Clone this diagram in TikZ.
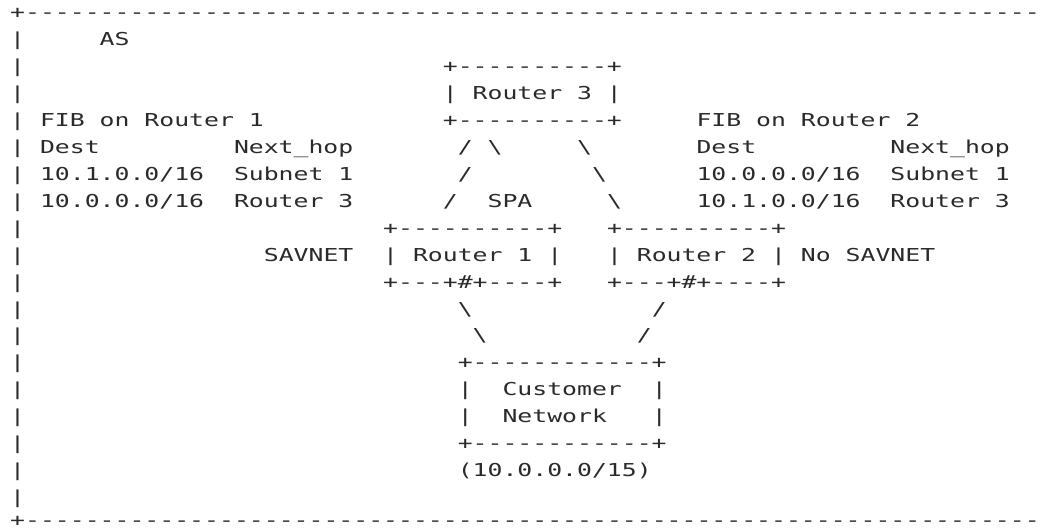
\documentclass[tikz,border=0pt]{standalone}
\usepackage{fontspec}
\setmonofont[FakeStretch=1.392]{DejaVu Sans Mono}
\definecolor{asciigray}{HTML}{2A2A2A}

\begin{document}
\begin{tikzpicture}[x=14.92pt,y=-26.95pt,
    ascii/.style={anchor=base west,inner sep=0pt,outer sep=0pt,text=asciigray,
        font=\ttfamily\fontsize{17.8}{20}\selectfont}]
    \useasboundingbox (-0.6836,-0.6883) rectangle (69.223,18.904);
    \clip (-0.6836,-0.6883) rectangle (69.223,18.904);
    % AS border
    \node [ascii] (tl) at (0,0) {+};
    \node [ascii] (bl) at (0,18.84) {+};
    \foreach \c in {1,...,70} {
        \node [ascii] (top\c) at (\c,0) {-};
        \node [ascii] (bot\c) at (\c,18.84) {-};
    }
    \foreach \r in {1,...,18} {
        \node [ascii] (bar\r) at (0,\r) {|};
    }
    \node [ascii] (as) at (6,1) {AS};
    % Router 3
    \node [ascii] (r3top) at (29,2) {+----------+};
    \node [ascii] (r3) at (29,3) {| Router 3 |};
    \node [ascii] (r3bot) at (29,4) {+----------+};
    % FIB tables
    \node [ascii] (fib1) at (2,4) {FIB on Router 1};
    \node [ascii] (dest1) at (2,5) {Dest};
    \node [ascii] (hop1) at (15,5) {Next\_hop};
    \node [ascii] (pfxa1) at (2,6) {10.1.0.0/16};
    \node [ascii] (hopa1) at (15,6) {Subnet 1};
    \node [ascii] (pfxb1) at (2,7) {10.0.0.0/16};
    \node [ascii] (hopb1) at (15,7) {Router 3};
    \node [ascii] (fib2) at (46,4) {FIB on Router 2};
    \node [ascii] (dest2) at (46,5) {Dest};
    \node [ascii] (hop2) at (59,5) {Next\_hop};
    \node [ascii] (pfxa2) at (46,6) {10.0.0.0/16};
    \node [ascii] (hopa2) at (59,6) {Subnet 1};
    \node [ascii] (pfxb2) at (46,7) {10.1.0.0/16};
    \node [ascii] (hopb2) at (59,7) {Router 3};
    % links to Router 3
    \node [ascii] (la1) at (30,5) {/};
    \node [ascii] (la2) at (30,6) {/};
    \node [ascii] (la3) at (29,7) {/};
    \node [ascii] (spa1) at (32,5) {\textbackslash};
    \node [ascii] (spa) at (32,7) {SPA};
    \node [ascii] (lb1) at (38,5) {\textbackslash};
    \node [ascii] (lb2) at (39,6) {\textbackslash};
    \node [ascii] (lb3) at (40,7) {\textbackslash};
    % Router 1 and Router 2
    \node [ascii] (r1top) at (25,8) {+----------+};
    \node [ascii] (r1) at (25,9) {| Router 1 |};
    \node [ascii] (r1bot) at (25,10) {+---+\#+----+};
    \node [ascii] (sav) at (17,9) {SAVNET};
    \node [ascii] (r2top) at (40,8) {+----------+};
    \node [ascii] (r2) at (40,9) {| Router 2 |};
    \node [ascii] (r2bot) at (40,10) {+---+\#+----+};
    \node [ascii] (nosav) at (53,9) {No SAVNET};
    % links to customer network
    \node [ascii] (lc1) at (30,11) {\textbackslash};
    \node [ascii] (lc2) at (31,12) {\textbackslash};
    \node [ascii] (ld1) at (43,11) {/};
    \node [ascii] (ld2) at (42,12) {/};
    % Customer Network
    \node [ascii] (cntop) at (30,13) {+------------+};
    \node [ascii] (cnl1) at (30,14) {|};
    \node [ascii] (cn1) at (33,14) {Customer};
    \node [ascii] (cnr1) at (43,14) {|};
    \node [ascii] (cnl2) at (30,15) {|};
    \node [ascii] (cn2) at (33,15) {Network};
    \node [ascii] (cnr2) at (43,15) {|};
    \node [ascii] (cnbot) at (30,16) {+------------+};
    \node [ascii] (cnpfx) at (30,17) {(10.0.0.0/15)};
\end{tikzpicture}
\end{document}
